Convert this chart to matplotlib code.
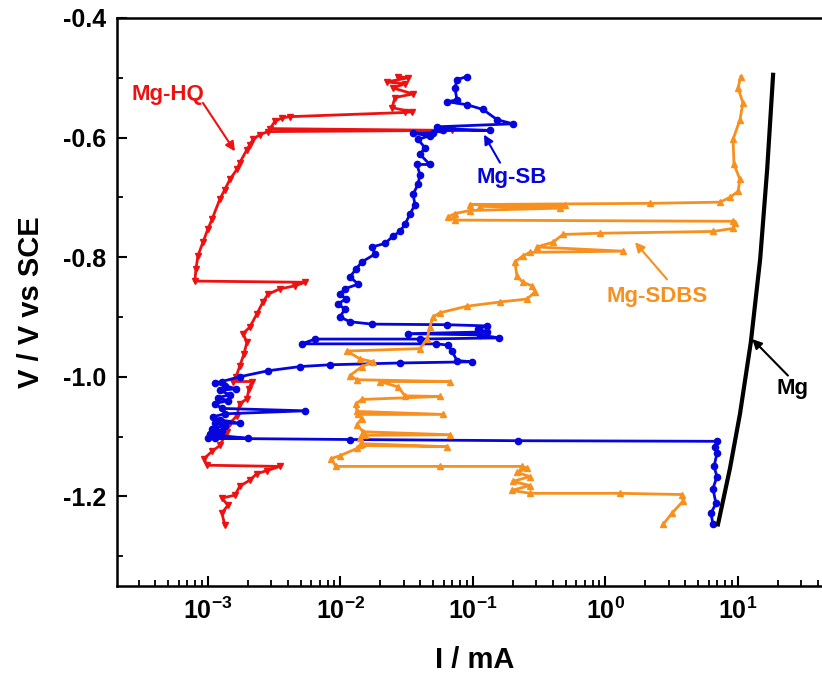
import matplotlib
matplotlib.use("Agg")
import matplotlib.pyplot as plt
from matplotlib.ticker import LogLocator, MultipleLocator, FormatStrFormatter

plt.rcParams['font.family'] = ['Liberation Sans', 'DejaVu Sans']
plt.rcParams['font.weight'] = 'bold'
plt.rcParams['axes.unicode_minus'] = False

# current (mA) and potential (V vs SCE)
mg_i = [7.06, 8.70, 10.35, 12.5, 14.7, 16.6, 18.4]
mg_v = [-1.247, -1.153, -1.062, -0.942, -0.803, -0.653, -0.495]

hq_i = [1.34e-3, 1.275e-3, 1.415e-3, 1.275e-3, 1.60e-3, 1.74e-3, 2.07e-3, 2.34e-3,
        2.79e-3, 3.49e-3, 9.83e-4, 9.33e-4, 1.072e-3, 1.23e-3, 1.39e-3, 1.466e-3,
        1.655e-3, 1.74e-3, 1.97e-3, 2.04e-3, 2.15e-3, 1.544e-3, 1.63e-3, 1.74e-3,
        1.87e-3, 1.97e-3, 1.84e-3, 2.07e-3, 2.34e-3, 2.60e-3, 2.84e-3, 3.49e-3,
        4.54e-3, 5.40e-3, 7.97e-4, 8.12e-4, 8.40e-4, 9.17e-4, 1.0e-3, 1.072e-3,
        1.23e-3, 1.34e-3, 1.466e-3, 1.655e-3, 1.74e-3, 1.97e-3, 2.07e-3, 2.19e-3,
        2.47e-3, 2.84e-3, 6.94e-2, 2.94e-3, 3.20e-3, 3.62e-3, 4.16e-3, 3.07e-2,
        3.47e-2, 2.45e-2, 2.58e-2, 3.53e-2, 2.49e-2, 3.07e-2, 2.24e-2, 3.23e-2,
        2.72e-2]
hq_v = [-1.248, -1.228, -1.215, -1.203, -1.198, -1.183, -1.173, -1.162,
        -1.157, -1.150, -1.148, -1.137, -1.125, -1.115, -1.092, -1.078,
        -1.065, -1.045, -1.037, -1.020, -1.008, -1.008, -1.000, -0.982,
        -0.962, -0.942, -0.928, -0.917, -0.895, -0.875, -0.862, -0.853,
        -0.848, -0.842, -0.840, -0.820, -0.798, -0.775, -0.753, -0.737,
        -0.703, -0.687, -0.670, -0.653, -0.642, -0.620, -0.612, -0.603,
        -0.595, -0.590, -0.588, -0.585, -0.573, -0.567, -0.565, -0.558,
        -0.557, -0.550, -0.533, -0.527, -0.517, -0.510, -0.507, -0.500,
        -0.498]

sb_i = [6.47, 6.25, 6.82, 6.47, 6.94, 6.59, 6.94, 6.70,
        6.94, 0.219, 1.18e-2, 1.0e-3, 1.13e-3, 2.0e-3, 1.19e-3, 1.035e-3,
        1.275e-3, 1.072e-3, 1.34e-3, 1.13e-3, 1.74e-3, 1.23e-3, 1.09e-3, 1.34e-3,
        5.40e-3, 1.275e-3, 1.13e-3, 1.415e-3, 1.19e-3, 1.466e-3, 1.23e-3, 1.63e-3,
        1.34e-3, 1.13e-3, 1.275e-3, 1.74e-3, 2.84e-3, 4.95e-3, 8.33e-3, 2.81e-2,
        9.82e-2, 7.57e-2, 6.94e-2, 6.47e-2, 5.26e-2, 5.12e-3, 6.42e-3, 3.98e-2,
        0.157, 0.113, 3.23e-2, 0.128, 0.109, 0.128, 6.37e-2, 1.73e-2,
        1.18e-2, 9.91e-3, 1.081e-2, 9.58e-3, 1.10e-2, 9.91e-3, 1.081e-2, 1.36e-2,
        1.18e-2, 1.31e-2, 1.45e-2, 1.82e-2, 1.73e-2, 2.17e-2, 2.49e-2, 2.81e-2,
        3.07e-2, 3.35e-2, 3.65e-2, 3.53e-2, 3.85e-2, 3.98e-2, 3.78e-2, 4.73e-2,
        3.98e-2, 4.34e-2, 3.85e-2, 4.73e-2, 3.53e-2, 4.99e-2, 5.94e-2, 0.134,
        5.64e-2, 5.35e-2, 0.200, 0.152, 0.119, 9.01e-2, 6.37e-2, 7.57e-2,
        7.31e-2, 7.57e-2, 9.01e-2]
sb_v = [-1.247, -1.228, -1.212, -1.187, -1.167, -1.150, -1.128, -1.117,
        -1.108, -1.107, -1.105, -1.103, -1.102, -1.103, -1.098, -1.095,
        -1.090, -1.087, -1.082, -1.077, -1.078, -1.072, -1.067, -1.062,
        -1.057, -1.053, -1.045, -1.040, -1.035, -1.030, -1.023, -1.020,
        -1.015, -1.010, -1.008, -1.000, -0.990, -0.983, -0.980, -0.977,
        -0.975, -0.973, -0.957, -0.947, -0.945, -0.945, -0.937, -0.937,
        -0.935, -0.930, -0.928, -0.925, -0.920, -0.915, -0.913, -0.912,
        -0.908, -0.900, -0.887, -0.878, -0.870, -0.862, -0.853, -0.845,
        -0.833, -0.820, -0.808, -0.795, -0.783, -0.777, -0.765, -0.757,
        -0.745, -0.728, -0.712, -0.695, -0.678, -0.662, -0.645, -0.645,
        -0.628, -0.617, -0.603, -0.597, -0.593, -0.592, -0.588, -0.588,
        -0.585, -0.582, -0.577, -0.570, -0.553, -0.545, -0.540, -0.537,
        -0.517, -0.503, -0.498]

sdbs_i = [2.72, 3.18, 3.85, 3.78, 1.285, 0.269, 0.197, 0.269,
          0.200, 0.269, 0.215, 0.256, 0.234, 5.64e-2, 9.25e-3, 8.48e-3,
          9.91e-3, 1.33e-2, 1.40e-2, 6.37e-2, 1.45e-2, 1.40e-2, 1.53e-2, 6.70e-2,
          1.48e-2, 1.33e-2, 1.45e-2, 1.36e-2, 5.94e-2, 1.33e-2, 1.31e-2, 1.45e-2,
          5.64e-2, 3.07e-2, 2.72e-2, 1.99e-2, 6.70e-2, 1.33e-2, 1.18e-2, 1.45e-2,
          1.76e-2, 1.40e-2, 1.12e-2, 3.98e-2, 4.50e-2, 4.73e-2, 4.99e-2, 5.64e-2,
          9.01e-2, 0.160, 0.256, 0.294, 0.279, 0.238, 0.215, 0.207,
          0.238, 0.269, 1.355, 0.304, 0.402, 0.478, 0.908, 6.47,
          9.17, 9.49, 9.17, 7.31e-2, 6.47e-2, 7.31e-2, 9.49e-2, 0.454,
          0.113, 0.495, 9.49e-2, 2.17, 7.31, 8.70, 10.0, 10.35,
          9.33, 9.17, 10.35, 10.9, 10.0, 10.5]
sdbs_v = [-1.247, -1.228, -1.208, -1.197, -1.195, -1.195, -1.190, -1.182,
          -1.175, -1.167, -1.160, -1.153, -1.150, -1.150, -1.150, -1.137,
          -1.132, -1.120, -1.115, -1.117, -1.112, -1.103, -1.098, -1.097,
          -1.092, -1.080, -1.070, -1.063, -1.063, -1.058, -1.045, -1.038,
          -1.033, -1.032, -1.017, -1.008, -1.008, -1.005, -0.998, -0.983,
          -0.975, -0.970, -0.957, -0.953, -0.937, -0.917, -0.900, -0.893,
          -0.882, -0.875, -0.870, -0.858, -0.848, -0.842, -0.832, -0.808,
          -0.798, -0.792, -0.790, -0.783, -0.775, -0.762, -0.760, -0.757,
          -0.752, -0.743, -0.740, -0.738, -0.733, -0.727, -0.722, -0.718,
          -0.715, -0.713, -0.712, -0.710, -0.708, -0.700, -0.690, -0.670,
          -0.645, -0.603, -0.570, -0.542, -0.517, -0.498]

red = '#ee1111'
blue = '#0505dd'
orange = '#f7901e'

fig = plt.figure(figsize=(8.22, 6.8), dpi=100)
ax = fig.add_axes([117 / 822, 94 / 680, 715 / 822, 568 / 680])

ax.plot(hq_i, hq_v, color=red, lw=2.0, marker='v', ms=4)
ax.plot(sb_i, sb_v, color=blue, lw=2.0, marker='o', ms=4.5)
ax.plot(sdbs_i, sdbs_v, color=orange, lw=2.0, marker='^', ms=4)
ax.plot(mg_i, mg_v, color='black', lw=3.0)

ax.set_xscale('log')
ax.set_xlim(2.06e-4, 51.2)
ax.set_ylim(-1.35, -0.4)

ax.xaxis.set_major_locator(LogLocator(base=10))
ax.xaxis.set_minor_locator(LogLocator(base=10, subs=range(2, 10)))
ax.yaxis.set_major_locator(MultipleLocator(0.2))
ax.yaxis.set_minor_locator(MultipleLocator(0.1))
ax.yaxis.set_major_formatter(FormatStrFormatter('%.1f'))

ax.tick_params(which='major', direction='in', length=7, width=1.5, labelsize=18, pad=8)
ax.tick_params(which='minor', direction='in', length=4, width=1.3)
for s in ax.spines.values():
    s.set_linewidth(1.8)

ax.set_xlabel('I / mA', fontsize=21, fontweight='bold')
ax.set_ylabel('V / V vs SCE', fontsize=21, fontweight='bold')
ax.xaxis.set_label_coords(0.5, -0.105)
ax.yaxis.set_label_coords(-0.1, 0.5)

# labels with arrows
arrow_kw = dict(arrowstyle='-|>', lw=1.5, mutation_scale=14, shrinkA=0, shrinkB=0)
ax.text(4.99e-4, -0.528, 'Mg-HQ', color=red, fontsize=16, ha='center', va='center')
ax.annotate('', xy=(1.60e-3, -0.623), xytext=(9.17e-4, -0.542),
            arrowprops=dict(color=red, **arrow_kw))
ax.text(0.197, -0.667, 'Mg-SB', color=blue, fontsize=16, ha='center', va='center')
ax.annotate('', xy=(0.121, -0.595), xytext=(0.160, -0.642),
            arrowprops=dict(color=blue, **arrow_kw))
ax.text(2.45, -0.865, 'Mg-SDBS', color=orange, fontsize=16, ha='center', va='center')
ax.annotate('', xy=(1.67, -0.775), xytext=(2.91, -0.837),
            arrowprops=dict(color=orange, **arrow_kw))
ax.text(26.0, -1.02, 'Mg', color='black', fontsize=16, ha='center', va='center')
ax.annotate('', xy=(12.8, -0.937), xytext=(23.8, -0.998),
            arrowprops=dict(color='black', **arrow_kw))

fig.savefig('out.png', dpi=100)
